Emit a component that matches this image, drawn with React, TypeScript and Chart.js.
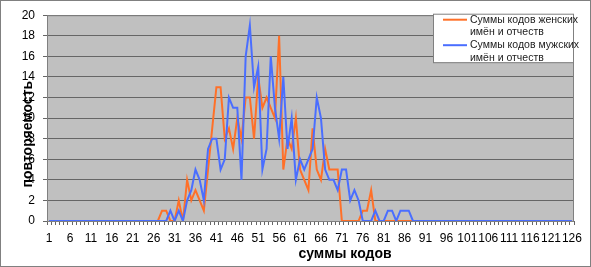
import React, { useEffect, useRef } from "react";
import { Chart, registerables } from "chart.js";

Chart.register(...registerables);

const categories: number[] = [
  1, 2, 3, 4, 5, 6, 7, 8, 9, 10,
  11, 12, 13, 14, 15, 16, 17, 18, 19, 20,
  21, 22, 23, 24, 25, 26, 27, 28, 29, 30,
  31, 32, 33, 34, 35, 36, 37, 38, 39, 40,
  41, 42, 43, 44, 45, 46, 47, 48, 49, 50,
  51, 52, 53, 54, 55, 56, 57, 58, 59, 60,
  61, 62, 63, 64, 65, 66, 67, 68, 69, 70,
  71, 72, 73, 74, 75, 76, 77, 78, 79, 80,
  81, 82, 83, 84, 85, 86, 87, 88, 89, 90,
  91, 92, 93, 94, 95, 96, 97, 98, 99, 100,
  101, 102, 103, 104, 105, 106, 107, 108, 109, 110,
  111, 112, 113, 114, 115, 116, 117, 118, 119, 120,
  121, 122, 123, 124, 125, 126,
];

const womenValues: number[] = [
  0, 0, 0, 0, 0, 0, 0, 0, 0, 0,
  0, 0, 0, 0, 0, 0, 0, 0, 0, 0,
  0, 0, 0, 0, 0, 0, 0, 1, 1, 0,
  0, 2, 0, 4, 2, 3, 2, 1, 5, 9,
  13, 13, 8, 9, 7, 10, 8, 12, 12, 8,
  14, 11, 12, 11, 10, 18, 5, 8, 7, 10,
  5, 4, 3, 9, 5, 4, 7, 5, 5, 5,
  0, 0, 0, 0, 0, 1, 1, 3, 0, 0,
  0, 0, 0, 0, 0, 0, 0, 0, 0, 0,
  0, 0, 0, 0, 0, 0, 0, 0, 0, 0,
  0, 0, 0, 0, 0, 0, 0, 0, 0, 0,
  0, 0, 0, 0, 0, 0, 0, 0, 0, 0,
  0, 0, 0, 0, 0, 0,
];

const menValues: number[] = [
  0, 0, 0, 0, 0, 0, 0, 0, 0, 0,
  0, 0, 0, 0, 0, 0, 0, 0, 0, 0,
  0, 0, 0, 0, 0, 0, 0, 0, 0, 1,
  0, 1, 0, 2, 3, 5, 4, 2, 7, 8,
  8, 5, 6, 12, 11, 11, 4, 16, 19, 13,
  15, 5, 7, 16, 11, 8, 14, 7, 10, 4,
  6, 5, 6, 7, 12, 10, 5, 4, 4, 3,
  5, 5, 2, 3, 2, 0, 0, 0, 1, 0,
  0, 1, 1, 0, 1, 1, 1, 0, 0, 0,
  0, 0, 0, 0, 0, 0, 0, 0, 0, 0,
  0, 0, 0, 0, 0, 0, 0, 0, 0, 0,
  0, 0, 0, 0, 0, 0, 0, 0, 0, 0,
  0, 0, 0, 0, 0, 0,
];

const womenLabel: string[] = ["Суммы кодов женских", "имён и отчеств"];
const menLabel: string[] = ["Суммы кодов мужских", "имён и отчеств"];
const xTitle = "суммы кодов";
const yTitle = "повторяемость";

const FONT = "'Liberation Sans', Arial, sans-serif";
const ORANGE = "#FF7028";
const BLUE = "#4A6EFF";
const GRID = "#666666";

const decorPlugin = {
  id: "decor",
  beforeDraw(chart: any) {
    const { ctx, chartArea: a } = chart;
    ctx.save();
    ctx.fillStyle = "#ffffff";
    ctx.fillRect(0, 0, chart.width, chart.height);
    ctx.fillStyle = "#C0C0C0";
    ctx.fillRect(a.left, a.top, a.right - a.left, a.bottom - a.top);
    ctx.restore();
  },
  beforeDatasetsDraw(chart: any) {
    const { ctx, chartArea: a } = chart;
    ctx.save();
    ctx.strokeStyle = "#808080";
    ctx.lineWidth = 1;
    ctx.strokeRect(a.left + 0.5, a.top + 0.5, a.right - a.left - 1, a.bottom - a.top);
    ctx.restore();
  },
  afterDraw(chart: any) {
    const { ctx, chartArea: a } = chart;
    ctx.save();
    // outer border
    ctx.strokeStyle = "#808080";
    ctx.lineWidth = 1;
    ctx.strokeRect(0.5, 0.5, chart.width - 1, chart.height - 1);

    // axis titles
    ctx.fillStyle = "#000";
    ctx.font = `bold 14px ${FONT}`;
    ctx.textAlign = "center";
    ctx.textBaseline = "middle";
    ctx.fillText(xTitle, a.left + 298, a.bottom + 33);
    ctx.save();
    ctx.translate(a.left - 19, a.top + 119);
    ctx.rotate(-Math.PI / 2);
    ctx.fillText(yTitle, 0, 0);
    ctx.restore();

    // legend
    const bw = 141;
    const bx = a.right - bw;
    const by = a.top - 1.5;
    const bh = 48.5;
    ctx.fillStyle = "#ffffff";
    ctx.fillRect(bx, by, bw, bh);
    ctx.strokeStyle = "#808080";
    ctx.strokeRect(bx + 0.5, by + 0.5, bw - 1, bh);
    const entries = chart.data.datasets.map((d: any, i: number) => ({
      color: d.borderColor,
      lines: i === 0 ? womenLabel : menLabel,
    }));
    ctx.font = `10.5px ${FONT}`;
    ctx.textAlign = "left";
    ctx.textBaseline = "middle";
    entries.forEach((e: any, i: number) => {
      const y0 = by + 6 + i * 25.5;
      ctx.strokeStyle = e.color;
      ctx.lineWidth = 2;
      ctx.beginPath();
      ctx.moveTo(bx + 10, y0);
      ctx.lineTo(bx + 34, y0);
      ctx.stroke();
      ctx.fillStyle = "#222";
      e.lines.forEach((t: string, j: number) => {
        ctx.fillText(t, bx + 37, y0 + j * 12.6);
      });
    });
    ctx.restore();
  },
};

export default function App() {
  const ref = useRef<HTMLCanvasElement | null>(null);

  useEffect(() => {
    if (!ref.current) return;
    const chart = new Chart(ref.current, {
      type: "line",
      data: {
        labels: categories.map(String),
        datasets: [
          {
            label: womenLabel.join(" "),
            data: womenValues,
            borderColor: ORANGE,
            backgroundColor: ORANGE,
            borderWidth: 2,
            pointRadius: 0,
            tension: 0,
            order: 1,
          },
          {
            label: menLabel.join(" "),
            data: menValues,
            borderColor: BLUE,
            backgroundColor: BLUE,
            borderWidth: 2,
            pointRadius: 0,
            tension: 0,
            order: 0,
          },
        ],
      },
      options: {
        animation: false,
        responsive: false,
        events: [],
        layout: { padding: { left: 0, right: 17, top: 12, bottom: 0 } },
        plugins: {
          legend: { display: false },
          tooltip: { enabled: false },
          title: { display: false },
        },
        scales: {
          x: {
            type: "category",
            offset: true,
            grid: {
              offset: true,
              drawOnChartArea: false,
              drawTicks: true,
              tickLength: 4,
              color: GRID,
            },
            border: { color: GRID },
            ticks: {
              autoSkip: false,
              maxRotation: 0,
              minRotation: 0,
              padding: 6,
              color: "#000",
              font: { family: FONT, size: 12 },
              callback: (_v: any, i: number) => (i % 5 === 0 ? String(categories[i]) : ""),
            },
            afterFit: (s: any) => {
              s.height = 46;
            },
          },
          y: {
            min: 0,
            max: 20,
            grid: {
              color: GRID,
              drawTicks: true,
              tickLength: 4,
            },
            border: { color: GRID },
            ticks: {
              stepSize: 2,
              padding: 8,
              color: "#000",
              font: { family: FONT, size: 12 },
            },
            afterFit: (s: any) => {
              s.width = 47;
            },
          },
        },
      },
      plugins: [decorPlugin],
    });
    return () => chart.destroy();
  }, []);

  return (
    <div style={{ position: "fixed", left: 0, top: 0, width: 591, height: 267 }}>
      <canvas ref={ref} width={591} height={267} style={{ display: "block" }} />
    </div>
  );
}
